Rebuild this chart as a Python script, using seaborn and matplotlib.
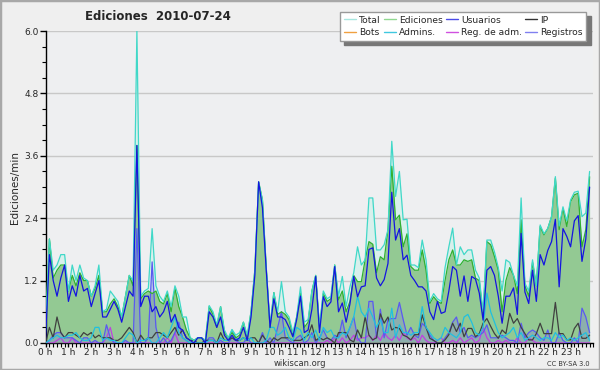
import numpy as np
import pandas as pd
import matplotlib
matplotlib.use("Agg")
import matplotlib.pyplot as plt
from matplotlib.lines import Line2D
from matplotlib.patches import Rectangle
from matplotlib.ticker import MultipleLocator, FixedLocator
import seaborn as sns

# Style
sns.set_theme(style="white")
plt.rcParams["font.family"] = ["DejaVu Sans"]

# 10-minute slots over the day
minutes = np.arange(0, 1440, 10)

# Edits per minute, one row per hour (6 slots each)
total = [
    0.3, 2.0, 1.4, 1.5, 1.7, 1.7,
    1.0, 1.5, 1.2, 1.5, 1.25, 1.2,
    0.9, 1.1, 1.5, 0.6, 0.65, 1.0,
    0.9, 0.8, 0.5, 0.9, 1.3, 1.2,
    6.0, 0.9, 1.0, 1.05, 2.2, 1.1,
    0.9, 0.8, 1.0, 0.7, 1.1, 0.9,
    0.5, 0.5, 0.1, 0.05, 0.1, 0.1,
    0.05, 0.72, 0.6, 0.35, 0.7, 0.25,
    0.1, 0.26, 0.15, 0.2, 0.4, 0.15,
    0.6, 1.4, 3.1, 2.75, 1.45, 0.35,
    0.97, 0.6, 1.18, 0.6, 0.5, 0.2,
    0.5, 1.08, 0.4, 0.45, 1.0, 1.3,
    0.3, 1.0, 0.85, 0.9, 1.5, 0.9,
    1.28, 0.7, 1.08, 1.35, 1.85, 1.5,
    1.6, 2.79, 2.79, 1.79, 1.79, 1.89,
    2.18, 3.88, 2.82, 3.3, 2.37, 2.38,
    1.5, 1.5, 1.45, 1.98, 1.6, 0.8,
    0.95, 0.85, 0.8, 1.45, 1.85, 2.21,
    1.5, 1.85, 1.7, 1.79, 1.79, 1.4,
    1.25, 0.6, 1.98, 1.98, 1.75, 1.45,
    1.0, 1.6, 1.55, 1.3, 1.1, 2.79,
    1.15, 1.0, 1.6, 1.1, 2.27, 2.1,
    2.2, 2.43, 3.2, 2.25, 2.62, 2.35,
    2.75, 2.9, 2.92, 2.43, 2.5, 3.3,
]
ediciones = [
    0.3, 2.0, 1.25, 1.4, 1.5, 1.5,
    1.0, 1.3, 1.1, 1.35, 1.2, 1.2,
    0.9, 1.05, 1.3, 0.6, 0.6, 0.75,
    0.85, 0.7, 0.5, 0.9, 1.3, 1.1,
    3.8, 0.85, 0.95, 1.0, 0.95, 1.0,
    0.8, 0.75, 0.95, 0.6, 1.05, 0.7,
    0.5, 0.25, 0.1, 0.05, 0.1, 0.1,
    0.05, 0.7, 0.55, 0.3, 0.7, 0.2,
    0.1, 0.2, 0.1, 0.15, 0.4, 0.1,
    0.6, 1.4, 3.1, 2.75, 1.45, 0.3,
    0.97, 0.55, 0.6, 0.55, 0.45, 0.15,
    0.5, 0.96, 0.3, 0.4, 1.0, 1.3,
    0.3, 0.95, 0.8, 0.85, 1.5, 0.83,
    1.0, 0.6, 0.8, 1.3, 1.18, 1.18,
    1.6, 1.95, 1.9, 1.35, 1.66, 1.6,
    2.18, 3.4, 2.37, 2.46, 1.85, 2.1,
    1.47, 1.4, 1.4, 1.79, 1.4, 0.76,
    0.89, 0.8, 0.76, 1.2, 1.6, 1.79,
    1.5, 1.5, 1.6, 1.57, 1.6, 1.25,
    1.2, 0.5, 1.95, 1.89, 1.66, 1.4,
    0.6, 1.2, 1.45, 1.3, 0.95, 2.37,
    1.1, 0.9, 1.55, 1.1, 2.24, 2.08,
    2.2, 2.43, 3.17, 2.18, 2.59, 2.24,
    2.72, 2.85, 2.88, 1.85, 2.18, 3.2,
]
usuarios = [
    0.1, 1.7, 1.2, 0.9, 1.25, 1.5,
    0.8, 1.1, 0.9, 1.3, 1.0, 1.05,
    0.7, 0.95, 1.2, 0.5, 0.5, 0.65,
    0.8, 0.65, 0.4, 0.7, 1.0, 0.9,
    3.8, 0.7, 0.9, 0.9, 0.6, 0.7,
    0.5, 0.6, 0.8, 0.4, 0.55, 0.3,
    0.25, 0.1, 0.05, 0.0, 0.1, 0.1,
    0.0, 0.6, 0.5, 0.3, 0.5, 0.15,
    0.05, 0.15, 0.05, 0.1, 0.3, 0.05,
    0.5, 1.3, 3.1, 2.6, 1.4, 0.3,
    0.85, 0.5, 0.5, 0.45, 0.3, 0.12,
    0.45, 0.9, 0.2, 0.25, 0.65, 1.28,
    0.2, 0.89, 0.7, 0.79, 1.47, 0.6,
    0.77, 0.4, 0.75, 1.28, 0.89, 1.08,
    1.1, 1.8, 1.83, 1.25, 1.1, 1.22,
    1.53, 2.9, 1.98, 2.2, 1.6, 1.69,
    1.3, 1.2, 1.08, 1.08, 1.0, 0.6,
    0.45, 0.8, 0.57, 0.6, 1.0, 1.47,
    1.4, 0.9, 1.29, 0.8, 1.28, 1.23,
    0.96, 0.44, 1.4, 1.47, 1.3, 0.9,
    0.38, 0.9, 0.9, 1.06, 0.55, 2.11,
    0.98, 0.76, 1.4, 0.8, 1.7, 1.5,
    1.78, 1.95, 2.38, 1.08, 2.2, 2.05,
    1.85, 2.35, 2.45, 1.57, 2.0, 3.0,
]
ip = [
    0.0, 0.3, 0.1, 0.5, 0.2, 0.1,
    0.2, 0.2, 0.15, 0.1, 0.2, 0.15,
    0.2, 0.1, 0.15, 0.1, 0.1, 0.1,
    0.05, 0.05, 0.1, 0.2, 0.3, 0.2,
    0.0, 0.15, 0.05, 0.1, 0.1, 0.2,
    0.2, 0.15, 0.1, 0.2, 0.3, 0.15,
    0.25, 0.1, 0.05, 0.05, 0.0, 0.0,
    0.05, 0.05, 0.05, 0.0, 0.2, 0.05,
    0.05, 0.1, 0.05, 0.05, 0.1, 0.05,
    0.1, 0.1, 0.0, 0.15, 0.05, 0.0,
    0.1, 0.05, 0.1, 0.1, 0.1, 0.05,
    0.05, 0.05, 0.1, 0.15, 0.35, 0.05,
    0.1, 0.06, 0.1, 0.06, 0.0, 0.2,
    0.2, 0.2, 0.06, 0.02, 0.25, 0.1,
    0.5, 0.15, 0.06, 0.1, 0.56, 0.38,
    0.5, 0.25, 0.3, 0.28, 0.15, 0.12,
    0.06, 0.16, 0.16, 0.54, 0.3, 0.09,
    0.05, 0.0, 0.0, 0.06, 0.16, 0.38,
    0.22, 0.38, 0.12, 0.28, 0.28, 0.12,
    0.18, 0.38, 0.47, 0.32, 0.18, 0.09,
    0.25, 0.18, 0.57, 0.38, 0.47, 0.3,
    0.18, 0.06, 0.06, 0.18, 0.38, 0.18,
    0.18, 0.18, 0.78, 0.18, 0.18, 0.06,
    0.06, 0.28, 0.38, 0.09, 0.09, 0.15,
]
bots = [0.0] * 144
admins = [
    0.0, 0.05, 0.1, 0.15, 0.1, 0.1,
    0.15, 0.15, 0.2, 0.1, 0.05, 0.05,
    0.1, 0.3, 0.3, 0.05, 0.1, 0.05,
    0.05, 0.0, 0.0, 0.1, 0.2, 0.15,
    0.0, 0.05, 0.05, 0.1, 0.0, 0.0,
    0.1, 0.2, 0.1, 0.3, 0.5, 0.2,
    0.1, 0.05, 0.0, 0.0, 0.0, 0.0,
    0.0, 0.05, 0.05, 0.0, 0.1, 0.05,
    0.05, 0.25, 0.1, 0.05, 0.1, 0.05,
    0.1, 0.0, 0.0, 0.0, 0.05, 0.3,
    0.3, 0.15, 0.2, 0.3, 0.1, 0.05,
    0.3, 0.25, 0.05, 0.2, 0.1, 0.25,
    0.05, 0.3, 0.2, 0.25, 0.1, 0.1,
    0.2, 0.15, 0.3, 0.5, 0.9, 0.6,
    0.5, 0.67, 0.5, 0.3, 0.45, 0.2,
    0.2, 0.67, 0.1, 0.35, 0.2, 0.2,
    0.15, 0.2, 0.2, 0.7, 0.3, 0.2,
    0.1, 0.05, 0.1, 0.3, 0.2, 0.15,
    0.1, 0.2, 0.5, 0.55, 0.4, 0.2,
    0.15, 0.3, 0.96, 0.6, 0.4, 0.2,
    0.1, 0.15, 0.2, 0.3, 0.1, 0.2,
    0.05, 0.1, 0.15, 0.1, 0.05, 0.1,
    0.1, 0.05, 0.2, 0.1, 0.15, 0.05,
    0.1, 0.05, 0.1, 0.15, 0.2, 0.05,
]
reg_adm = [
    0.0, 0.0, 0.0, 0.05, 0.1, 0.0,
    0.0, 0.1, 0.0, 0.0, 0.0, 0.0,
    0.0, 0.0, 0.0, 0.0, 0.1, 0.3,
    0.0, 0.0, 0.0, 0.0, 0.0, 0.0,
    0.0, 0.0, 0.0, 0.0, 0.0, 0.0,
    0.0, 0.0, 0.1, 0.0, 0.2, 0.0,
    0.0, 0.0, 0.0, 0.0, 0.0, 0.0,
    0.0, 0.0, 0.0, 0.0, 0.0, 0.0,
    0.0, 0.0, 0.0, 0.0, 0.0, 0.0,
    0.0, 0.0, 0.0, 0.0, 0.0, 0.0,
    0.0, 0.0, 0.0, 0.0, 0.0, 0.0,
    0.0, 0.0, 0.0, 0.0, 0.0, 0.0,
    0.0, 0.0, 0.05, 0.0, 0.1, 0.0,
    0.1, 0.0, 0.05, 0.15, 0.05, 0.1,
    0.1, 0.15, 0.05, 0.15, 0.05, 0.2,
    0.1, 0.05, 0.15, 0.05, 0.2, 0.1,
    0.05, 0.1, 0.0, 0.15, 0.05, 0.0,
    0.0, 0.05, 0.1, 0.0, 0.0, 0.05,
    0.0, 0.1, 0.0, 0.05, 0.1, 0.0,
    0.05, 0.3, 0.1, 0.0, 0.0, 0.05,
    0.0, 0.05, 0.0, 0.0, 0.1, 0.0,
    0.0, 0.1, 0.05, 0.0, 0.0, 0.0,
    0.0, 0.0, 0.0, 0.0, 0.0, 0.0,
    0.0, 0.0, 0.0, 0.0, 0.0, 0.0,
]
registros = [
    0.0, 0.05, 0.15, 0.2, 0.2, 0.1,
    0.1, 0.1, 0.05, 0.0, 0.1, 0.1,
    0.0, 0.05, 0.0, 0.0, 0.35, 0.1,
    0.0, 0.0, 0.0, 0.05, 0.0, 0.0,
    2.2, 0.0, 0.0, 0.1, 1.56, 0.3,
    0.0, 0.1, 0.0, 0.05, 0.2, 0.4,
    0.1, 0.05, 0.0, 0.0, 0.0, 0.0,
    0.0, 0.1, 0.1, 0.0, 0.05, 0.0,
    0.0, 0.1, 0.05, 0.0, 0.0, 0.1,
    0.0, 0.0, 0.0, 0.2, 0.0, 0.1,
    0.0, 0.3, 0.6, 0.1, 0.05, 0.0,
    0.1, 0.15, 0.0, 0.05, 0.2, 0.0,
    0.1, 0.25, 0.1, 0.05, 0.15, 0.1,
    0.44, 0.1, 0.3, 0.5, 0.1, 0.0,
    0.0, 0.8, 0.8, 0.1, 0.65, 0.1,
    0.45, 0.47, 0.47, 0.78, 0.45, 0.15,
    0.3, 0.15, 0.1, 0.38, 0.3, 0.15,
    0.05, 0.0, 0.0, 0.1, 0.2, 0.4,
    0.5, 0.2, 0.3, 0.1, 0.15, 0.1,
    0.15, 0.2, 0.35, 0.1, 0.1, 0.1,
    0.15, 0.1, 0.05, 0.05, 0.0, 0.38,
    0.1, 0.2, 0.25, 0.2, 0.1, 0.05,
    0.25, 0.0, 0.0, 0.2, 0.05, 0.0,
    0.0, 0.1, 0.0, 0.67, 0.5, 0.2,
]

hour_labels = [f"{h} h" for h in range(24)]

df = pd.DataFrame({
    "hora": minutes / 60,
    "Total": total,
    "Ediciones": ediciones,
    "Usuarios": usuarios,
    "IP": ip,
    "Bots": bots,
    "Admins.": admins,
    "Reg. de adm.": reg_adm,
    "Registros": registros,
})

# line colours in the plot, lighter versions for the legend
line_colors = {
    "Bots": "#f0a040",
    "Reg. de adm.": "#c040e0",
    "Registros": "#5a5af0",
    "IP": "#404040",
    "Admins.": "#20c0e0",
    "Ediciones": "#30b030",
    "Total": "#40d8c8",
    "Usuarios": "#1414e0",
}
legend_colors = {
    "Total": "#a8e6e0", "Bots": "#f0a040",
    "Ediciones": "#90d890", "Admins.": "#40c8e0",
    "Usuarios": "#4a4ae8", "Reg. de adm.": "#d050e0",
    "IP": "#333333", "Registros": "#8080f0",
}

fig = plt.figure(figsize=(6, 3.7), dpi=100, facecolor="#efefef")
fig.patches.append(Rectangle((0, 0), 1, 1, transform=fig.transFigure, fill=False,
                             edgecolor="#a8a8a8", lw=2.5))
ax = fig.add_axes([0.076, 0.073, 0.913, 0.843])
ax.set_facecolor("#eeeff1")

# area fills
ax.fill_between(df["hora"], df["Total"], color="#d8f0ec", lw=0, zorder=1)
ax.fill_between(df["hora"], df["Ediciones"], color="#93c993", lw=0, zorder=2)
ax.fill_between(df["hora"], df["Registros"], color="#8080e0", alpha=0.35, lw=0, zorder=3)

for i, col in enumerate(line_colors):
    sns.lineplot(data=df, x="hora", y=col, color=line_colors[col], lw=0.9,
                 ax=ax, legend=False, zorder=4 + i)

ax.set_xlim(0, 24)
ax.set_ylim(0, 6.0)
ax.set_xlabel("")
ax.set_ylabel("Ediciones/min", fontsize=7.5, labelpad=3)
ax.yaxis.set_major_locator(MultipleLocator(1.2))
ax.yaxis.set_minor_locator(MultipleLocator(0.3))
ax.set_yticklabels([f"{v:.1f}" for v in ax.get_yticks()])
ax.xaxis.set_major_locator(FixedLocator(range(24)))
ax.xaxis.set_minor_locator(MultipleLocator(1 / 6))
ax.set_xticklabels(hour_labels)
ax.tick_params(axis="both", which="major", labelsize=6.5, length=4, width=1,
               color="black", direction="out", pad=1)
ax.tick_params(axis="x", which="major", length=3, pad=0.5)
ax.tick_params(axis="both", which="minor", length=3, width=0.8, color="black",
               direction="out")
ax.tick_params(axis="x", which="both", bottom=True)
ax.tick_params(axis="y", which="both", left=True)

ax.yaxis.grid(True, color="#c8c8c8", lw=1)
ax.set_axisbelow(True)
for s in ["top", "right"]:
    ax.spines[s].set_visible(False)
for s in ["left", "bottom"]:
    ax.spines[s].set_color("black")
    ax.spines[s].set_linewidth(1)

fig.text(0.142, 0.955, "Ediciones  2010-07-24", fontsize=8.5, fontweight="bold",
         va="center", ha="left")
fig.text(0.5, 0.017, "wikiscan.org", ha="center", va="center", fontsize=6, color="#333333")
fig.text(0.983, 0.017, "CC BY-SA 3.0", ha="right", va="center", fontsize=4.8, color="#333333")

order = ["Total", "Bots", "Ediciones", "Admins.", "Usuarios", "Reg. de adm.", "IP", "Registros"]
handles = [Line2D([], [], color=legend_colors[k], lw=1) for k in order]
fig.legend(handles, order, loc="upper right", bbox_to_anchor=(0.985, 0.98), ncol=4,
           fontsize=6.6, handlelength=1.3, handletextpad=0.35, columnspacing=0.35,
           labelspacing=0.35, borderpad=0.4, frameon=True, fancybox=False,
           facecolor="white", edgecolor="#999999", framealpha=1,
           shadow={"ox": 3, "oy": -3, "facecolor": "#777777", "edgecolor": "#777777", "alpha": 1})

fig.savefig("out.png", dpi=100, facecolor=fig.get_facecolor())
